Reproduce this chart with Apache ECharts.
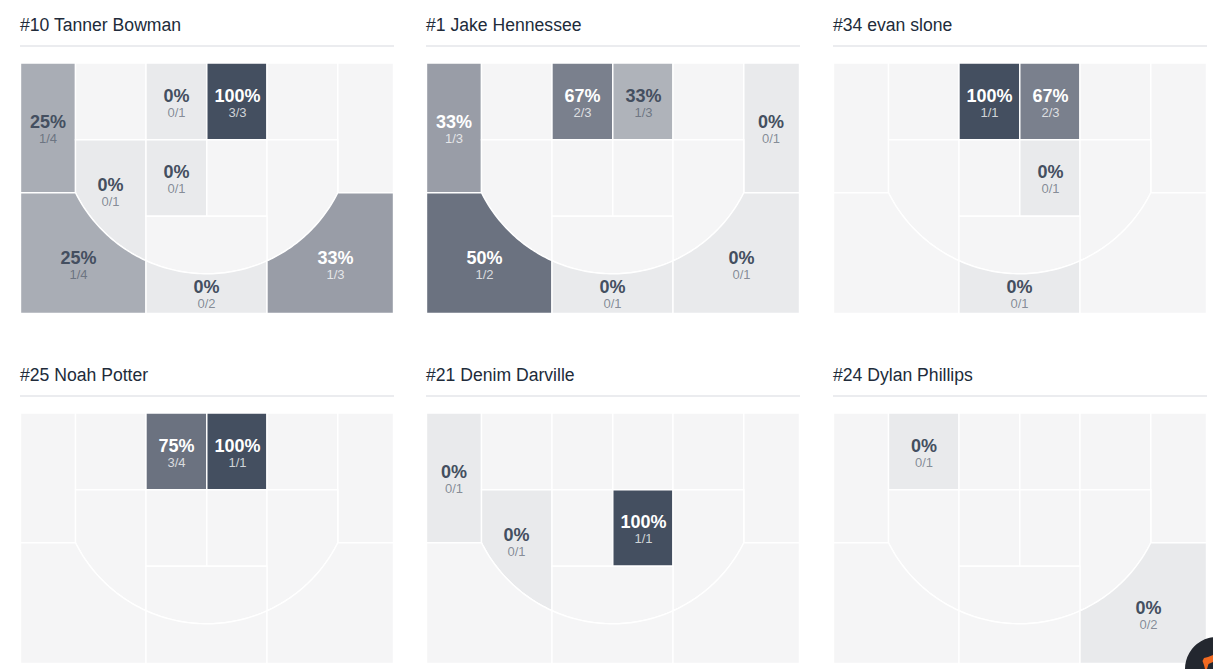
<!DOCTYPE html>
<html><head><meta charset="utf-8">
<style>html,body{margin:0;padding:0;background:#fff}#c{width:1213px;height:669px}</style>
<script src="https://cdn.jsdelivr.net/npm/echarts@6/dist/echarts.min.js"></script>
</head><body><div id="c"></div>
<script>
const players = ['#10 Tanner Bowman','#1 Jake Hennessee','#34 evan slone','#25 Noah Potter','#21 Denim Darville','#24 Dylan Phillips'];
const zones = ['cornerL','topL','topCL','topCR','topR','cornerR','wingL','paintL','paintR','wingR','keyBottom','threeL','threeC','threeR'];
// one entry per zone, same order as zones
const makesTanner    = [1,0,0,3,0,0,0,0,0,0,0,1,0,1];
const attemptsTanner = [4,0,1,3,0,0,1,1,0,0,0,4,2,3];
const makesJake      = [1,0,2,1,0,0,0,0,0,0,0,1,0,0];
const attemptsJake   = [3,0,3,3,0,1,0,0,0,0,0,2,1,1];
const makesEvan      = [0,0,1,2,0,0,0,0,0,0,0,0,0,0];
const attemptsEvan   = [0,0,1,3,0,0,0,0,1,0,0,0,1,0];
const makesNoah      = [0,0,3,1,0,0,0,0,0,0,0,0,0,0];
const attemptsNoah   = [0,0,4,1,0,0,0,0,0,0,0,0,0,0];
const makesDenim     = [0,0,0,0,0,0,0,0,1,0,0,0,0,0];
const attemptsDenim  = [1,0,0,0,0,0,1,0,1,0,0,0,0,0];
const makesDylan     = [0,0,0,0,0,0,0,0,0,0,0,0,0,0];
const attemptsDylan  = [0,1,0,0,0,0,0,0,0,0,0,0,0,2];
const makes = [makesTanner,makesJake,makesEvan,makesNoah,makesDenim,makesDylan];
const attempts = [attemptsTanner,attemptsJake,attemptsEvan,attemptsNoah,attemptsDenim,attemptsDylan];

// court geometry, in court units
const W=373,H=250.5,X1=55,X2=125.5,X3=186.3,X4=246.5,X5=317.3,Y1=76.8,Y2=129.8,Y3=153.3;
const CX=(X1+X5)/2,halfChord=(X5-X1)/2,SAG=81;
const lift=(halfChord*halfChord-SAG*SAG)/(2*SAG),CY=Y2-lift,R=SAG+lift;
const arcY=x=>CY+Math.sqrt(R*R-(x-CX)*(x-CX));
function arcPts(a,b){const p=[];const n=40;for(let i=0;i<=n;i++){const x=a+(b-a)*i/n;p.push([x,arcY(x)]);}return p;}
const shapes={
  cornerL:[[0,0],[X1,0],[X1,Y2],[0,Y2]],
  topL:[[X1,0],[X2,0],[X2,Y1],[X1,Y1]],
  topCL:[[X2,0],[X3,0],[X3,Y1],[X2,Y1]],
  topCR:[[X3,0],[X4,0],[X4,Y1],[X3,Y1]],
  topR:[[X4,0],[X5,0],[X5,Y1],[X4,Y1]],
  cornerR:[[X5,0],[W,0],[W,Y2],[X5,Y2]],
  wingL:[[X1,Y1],[X2,Y1],...arcPts(X2,X1)],
  paintL:[[X2,Y1],[X3,Y1],[X3,Y3],[X2,Y3]],
  paintR:[[X3,Y1],[X4,Y1],[X4,Y3],[X3,Y3]],
  wingR:[[X4,Y1],[X5,Y1],...arcPts(X5,X4)],
  keyBottom:[[X2,Y3],[X4,Y3],...arcPts(X4,X2)],
  threeL:[[0,Y2],...arcPts(X1,X2),[X2,H],[0,H]],
  threeC:[...arcPts(X2,X4),[X4,H],[X2,H]],
  threeR:[...arcPts(X4,X5),[W,Y2],[W,H],[X4,H]]
};
const anchors={cornerL:[27.5,59],topL:[90.5,33],topCL:[156,33],topCR:[217,33],topR:[281,33],cornerR:[344.5,59],
  wingL:[90,122],paintL:[156,109],paintR:[217,109],wingR:[283,122],keyBottom:[186,190],threeL:[58,195],threeC:[186,224],threeR:[315,195]};

const EMPTY='#f5f5f6';
const shadeByPct={0:'#e9eaec',25:'#a9adb5',33:'#999da7',50:'#6b7280',67:'#7a808d',75:'#6b7280',100:'#444f60'};
const lightTopCR33='#afb3ba';
const DARK='#444f60';
function fillFor(zone,pct,att){
  if(!att) return EMPTY;
  if(zone==='topCR'&&pct===33) return lightTopCR33;
  return shadeByPct[pct];
}
const useWhite=(zone,pct)=>pct>=50||(pct===33&&zone!=='topCR');

const panelX=[20.5,426.5,833.5],panelY=[63,413];
const grids=[],xAxes=[],yAxes=[],series=[],titles=[],rules=[];
players.forEach((name,i)=>{
  const left=panelX[i%3],top=panelY[Math.floor(i/3)];
  grids.push({left,top,width:W,height:H,containLabel:false,show:false});
  xAxes.push({type:'value',gridIndex:i,min:0,max:W,show:false});
  yAxes.push({type:'value',gridIndex:i,min:0,max:H,inverse:true,show:false});
  titles.push({text:name,left:left-0.5,top:top-48,textStyle:{fontFamily:'"Liberation Sans",Arial,sans-serif',fontSize:17.6,fontWeight:'normal',color:'#212b3a',lineHeight:20},padding:0});
  rules.push({type:'rect',silent:true,shape:{x:left-0.5,y:top-18,width:374,height:2},style:{fill:'#ebecef'}});
  series.push({
    type:'custom',coordinateSystem:'cartesian2d',xAxisIndex:i,yAxisIndex:i,silent:true,animation:false,clip:false,
    data:zones.map((z,k)=>[k,makes[i][k],attempts[i][k]]),
    encode:{x:-1,y:-1},
    renderItem(params,api){
      const zone=zones[api.value(0)],m=api.value(1),a=api.value(2);
      const pct=a?Math.round(m/a*100):0;
      const pts=shapes[zone].map(p=>api.coord(p));
      const children=[{type:'polygon',shape:{points:pts},style:{fill:fillFor(zone,pct,a),stroke:'#fff',lineWidth:1.4,lineJoin:'miter'}}];
      if(a){
        const c=api.coord(anchors[zone]);
        const white=useWhite(zone,pct);
        children.push({type:'text',style:{x:c[0],y:c[1],text:pct+'%',align:'center',verticalAlign:'middle',fontFamily:'"Liberation Sans",Arial,sans-serif',fontSize:18,fontWeight:'bold',fill:white?'#fff':DARK}});
        children.push({type:'text',style:{x:c[0],y:c[1]+16.5,text:m+'/'+a,align:'center',verticalAlign:'middle',fontFamily:'"Liberation Sans",Arial,sans-serif',fontSize:13,fill:white?'rgba(255,255,255,0.75)':'rgba(68,79,96,0.62)'}});
      }
      return {type:'group',children};
    }
  });
});
const chart=echarts.init(document.getElementById('c'),null,{renderer:'svg',width:1213,height:669});
chart.setOption({
  animation:false,backgroundColor:'#fff',
  title:titles,grid:grids,xAxis:xAxes,yAxis:yAxes,series,
  graphic:[...rules,
    {type:'circle',silent:true,z:100,shape:{cx:1217,cy:669,r:32},style:{fill:'#23272f'}},
    {type:'polygon',silent:true,z:101,shape:{points:[[1202.5,661],[1204,658],[1208,657],[1213,655],[1213,662],[1208.5,664],[1207,669],[1205,669],[1204,665]]},style:{fill:'#f26a21'}}
  ]
});
</script></body></html>
